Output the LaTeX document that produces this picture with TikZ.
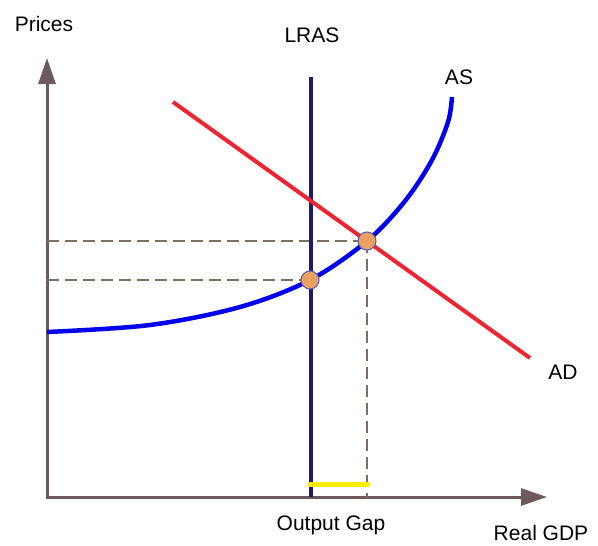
\documentclass[tikz,border=0pt]{standalone}
\usepackage{fontspec}
\setmainfont{Liberation Sans}
\usepackage{xcolor}
\usepackage{tikz}
\usetikzlibrary{calc,arrows.meta}
\definecolor{axisbrown}{HTML}{6E5A5C}
\definecolor{dashbrown}{HTML}{7F6F5F}
\definecolor{lrasnavy}{HTML}{1C1C6E}
\definecolor{asblue}{HTML}{0000EE}
\definecolor{adred}{HTML}{EE2430}
\definecolor{gapyellow}{HTML}{FFEE00}
\definecolor{eqorange}{HTML}{E8A15E}
\definecolor{eqrim}{HTML}{5A5AB0}
\tikzset{
  lbl/.style={font=\fontsize{21}{24}\selectfont},
  guide/.style={dashbrown,line width=1.5pt,dash pattern=on 12pt off 6pt},
  eqpt/.style={circle,fill=eqorange,draw=eqrim,line width=1pt,minimum size=18pt,inner sep=0pt}
}

\begin{document}
\begin{tikzpicture}[x=1pt,y=-1pt]
\useasboundingbox (0,0) rectangle (598,546);
\coordinate (O) at (47,497); \coordinate (ytip) at (47,58); \coordinate (xtip) at (547,497);
\coordinate (E1) at (310,280); \coordinate (E2) at (367,241);
\draw[axisbrown,line width=3pt,{Triangle[length=26pt,width=17pt]}-{Triangle[length=26pt,width=17pt]}] (ytip)--(O)--(xtip);
\draw[guide] (O|-E2)--(E2); \draw[guide] (O|-E1)--(E1); \draw[guide] (E2)--(E2|-O);
\draw[lrasnavy,line width=4.5pt] (311,77)--(311,497);
\draw[gapyellow,line width=5pt,line cap=round] (310,484)--(368,484);
\draw[adred,line width=4pt] (173,102)--(530,358);
\draw[asblue,line width=4.5pt] plot[smooth,tension=0.55] coordinates {(47,332) (150,325) (240,307) (E1) (E2) (405,201) (432,160) (448,122) (452,97)};
\node[eqpt] (eq1) at (E1) {}; \node[eqpt] (eq2) at (E2) {};
\node[lbl] (prices) at (44,24) {Prices};
\node[lbl] (lras) at (312,35) {LRAS};
\node[lbl] (as) at (459,77) {AS};
\node[lbl] (ad) at (563,372) {AD};
\node[lbl] (gap) at (331,525) {Output Gap};
\node[lbl] (gdp) at (541,533) {Real GDP};
\end{tikzpicture}
\end{document}
